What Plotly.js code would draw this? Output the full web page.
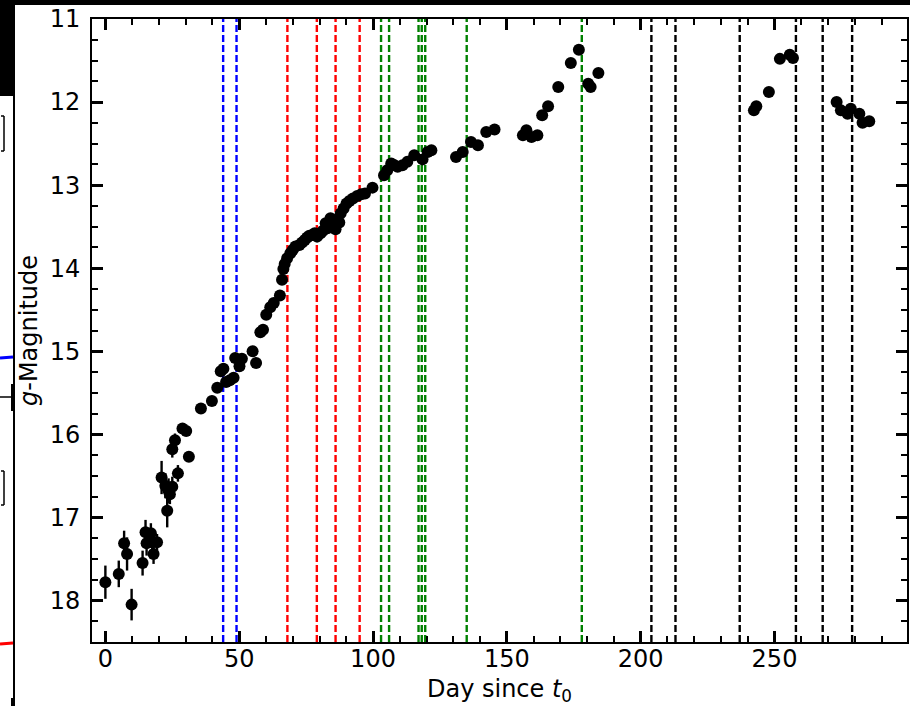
<!DOCTYPE html>
<html>
<head>
<meta charset="utf-8">
<script src="https://cdn.plot.ly/plotly-3.0.1.min.js"></script>
<style>html,body{margin:0;padding:0;background:#fff;}#chart{width:910px;height:706px;}</style>
</head>
<body>
<div id="chart"></div>
<script>
// Light-curve data (day since t0, g magnitude, error)
var days = [0, 5, 7, 8.1, 9.8, 13.9, 15.0, 15.4, 17.0, 17.5, 18.0, 19.3,
  21.0, 22.4, 23.1, 23.6, 24.1, 25.0, 25.0, 26.0, 27.1, 28.8, 30.2, 31.2,
  35.7, 39.8, 41.8, 43.1, 44.1, 45.1, 46.5, 47.9, 48.5, 50.1, 51.0, 55.0, 56.3,
  57.9, 58.9, 60.1, 61.6, 62.9, 65.2, 66.0, 66.5, 67.0, 67.9, 69.1, 70.0, 71.0,
  72.5, 73.5, 74.5, 75.4, 76.2, 77.3, 78.2, 79.1, 80.4, 81.3, 82.3, 83.0, 84.1,
  85.0, 86.0, 86.5, 87.4, 87.9, 89.0, 90.1, 91.2, 92.5, 94.1, 95.6, 97.0, 99.8,
  104.1, 105.3, 106.8, 108.0, 109.2, 111.0, 112.8, 115.4, 118.5, 120.4, 121.8,
  131.0, 133.5, 136.6, 139.2, 142.3, 145.4, 156.0, 157.3, 159.2, 161.4, 163.2,
  165.4, 169.2, 173.9, 176.9, 180.4, 181.3, 184.2,
  242.3, 243.2, 247.9, 252.0, 255.7, 256.9,
  273.2, 274.8, 277.3, 278.5, 281.7, 282.9, 285.4];
var gMag = [17.78, 17.68, 17.31, 17.44, 18.05, 17.55, 17.18, 17.31, 17.19, 17.30, 17.44, 17.30,
  16.52, 16.62, 16.92, 16.68, 16.72, 16.63, 16.18, 16.07, 16.47, 15.93, 15.96, 16.27,
  15.69, 15.60, 15.44, 15.24, 15.21, 15.37, 15.35, 15.32, 15.08, 15.18, 15.09, 15.00, 15.14,
  14.77, 14.74, 14.56, 14.47, 14.42, 14.33, 14.14, 14.01, 13.95, 13.88, 13.82, 13.78, 13.74,
  13.72, 13.69, 13.66, 13.63, 13.61, 13.60, 13.58, 13.62, 13.58, 13.55, 13.46, 13.52, 13.40,
  13.44, 13.53, 13.42, 13.45, 13.34, 13.28, 13.22, 13.19, 13.16, 13.13, 13.11, 13.10, 13.03,
  12.88, 12.82, 12.74, 12.76, 12.78, 12.76, 12.72, 12.64, 12.69, 12.60, 12.58,
  12.66, 12.60, 12.48, 12.52, 12.36, 12.33, 12.40, 12.34, 12.42, 12.40, 12.16,
  12.05, 11.82, 11.53, 11.37, 11.78, 11.82, 11.65,
  12.10, 12.05, 11.88, 11.48, 11.43, 11.47,
  12.00, 12.10, 12.14, 12.08, 12.14, 12.25, 12.23];
var gErr = [0.20, 0.16, 0.15, 0.20, 0.19, 0.15, 0.15, 0.15, 0.12, 0.12, 0.12, 0.10,
  0.20, 0.15, 0.20, 0.15, 0.12, 0.12, 0.10, 0.08, 0.10, 0.06, 0.06, 0.06,
  0.05, 0.05, 0.05, 0.05, 0.05, 0.05, 0.05, 0.05, 0.05, 0.05, 0.05, 0.05, 0.05,
  0.04, 0.04, 0.04, 0.04, 0.04, 0.04, 0.04, 0.04, 0.04, 0.04, 0.04, 0.04, 0.04,
  0.04, 0.04, 0.04, 0.04, 0.04, 0.04, 0.04, 0.04, 0.04, 0.04, 0.04, 0.04, 0.04,
  0.04, 0.04, 0.04, 0.04, 0.04, 0.04, 0.04, 0.04, 0.04, 0.04, 0.04, 0.04, 0.04,
  0.04, 0.04, 0.04, 0.04, 0.04, 0.04, 0.04, 0.04, 0.04, 0.04, 0.04,
  0.04, 0.04, 0.04, 0.04, 0.04, 0.04, 0.04, 0.04, 0.04, 0.04, 0.04,
  0.04, 0.04, 0.04, 0.04, 0.04, 0.04, 0.04,
  0.04, 0.04, 0.04, 0.04, 0.04, 0.04,
  0.04, 0.04, 0.04, 0.04, 0.04, 0.04, 0.04];

// Epoch markers (vertical dashed lines), by group
var blueEpochs = [44, 49];
var redEpochs = [68, 79, 86, 95];
var greenEpochs = [103, 106, 117, 118.2, 119.5, 135, 178];
var blackEpochs = [204, 213, 237, 258, 268, 279];

var xLabel = 'Day since <i>t</i><sub>0</sub>';
var yLabel = '<i>g</i>-Magnitude';

// figure geometry
var W = 910, H = 706, ML = 92, MR = 3, MT = 19, MB = 64;
function px(x){ return (x - ML) / (W - ML - MR); }
function py(y){ return (H - MB - y) / (H - MT - MB); }

var shapes = [];
function addEpochs(arr, color){
  arr.forEach(function(d){
    shapes.push({type:'line', xref:'x', yref:'paper', x0:d, x1:d, y0:0, y1:1,
      layer:'below', line:{color:color, width:2.4, dash:'7px,3px'}});
  });
}
addEpochs(blueEpochs, '#0000ff');
addEpochs(redEpochs, '#ff0000');
addEpochs(greenEpochs, '#008000');
addEpochs(blackEpochs, '#000000');

// neighbouring-panel remnants at the edges of the crop
function rectPx(x0,y0,x1,y1,fill){
  shapes.push({type:'rect', xref:'paper', yref:'paper', x0:px(x0), x1:px(x1), y0:py(y1), y1:py(y0),
    fillcolor:fill, line:{width:0}, layer:'above'});
}
function linePx(x0,y0,x1,y1,color,w){
  shapes.push({type:'line', xref:'paper', yref:'paper', x0:px(x0), x1:px(x1), y0:py(y0), y1:py(y1),
    line:{color:color, width:w}, layer:'above'});
}
rectPx(0,0,910,5,'#000');
rectPx(0,0,15,96,'#000');
linePx(14,96,14,706,'#000',2);
linePx(1,116,4,116,'#000',1.5); linePx(4,116,4,151,'#000',1.5); linePx(1,151,4,151,'#000',1.5);
linePx(1,471,4,471,'#000',1.5); linePx(4,471,4,505,'#000',1.5); linePx(1,505,4,505,'#000',1.5);
linePx(0,358,13,357,'#0000ff',3);
linePx(0,644,13,643,'#ff0000',3);
linePx(0,397,13,397,'#000',1.5);
rectPx(11,384,15,411,'#000');
rectPx(11,698,15,706,'#000');

var trace = {
  x: days, y: gMag, type:'scatter', mode:'markers',
  marker:{color:'#000', size:12},
  error_y:{type:'data', array:gErr, visible:true, color:'#000', thickness:2.4, width:0},
  hoverinfo:'x+y', showlegend:false
};

var font = {family:'DejaVu Sans, sans-serif', size:24, color:'#000'};
var layout = {
  width:W, height:H,
  margin:{l:ML, r:MR, t:MT, b:MB, pad:0},
  paper_bgcolor:'#fff', plot_bgcolor:'#fff',
  font: font,
  showlegend:false,
  xaxis:{
    range:[-5, 299.5], tick0:0, dtick:50, ticks:'inside', ticklen:11, tickwidth:3, tickcolor:'#000',
    minor:{dtick:10, tick0:0, ticks:'inside', ticklen:6, tickwidth:2, tickcolor:'#000'},
    mirror:'allticks', showline:true, linewidth:2, linecolor:'#000',
    showgrid:false, zeroline:false, automargin:false, ticklabelstandoff:-6,
    tickfont:font,
    title:{text:xLabel, font:font, standoff:10}
  },
  yaxis:{
    range:[18.5, 11], tick0:11, dtick:1, ticks:'inside', ticklen:11, tickwidth:3, tickcolor:'#000',
    minor:{dtick:0.25, tick0:11, ticks:'inside', ticklen:6, tickwidth:2, tickcolor:'#000'},
    mirror:'allticks', showline:true, linewidth:2, linecolor:'#000',
    showgrid:false, zeroline:false, automargin:false, ticklabelstandoff:5,
    tickfont:font,
    title:{text:yLabel, font:font, standoff:5}
  },
  shapes: shapes
};
Plotly.newPlot('chart', [trace], layout, {displayModeBar:false, staticPlot:true});
</script>
</body>
</html>
